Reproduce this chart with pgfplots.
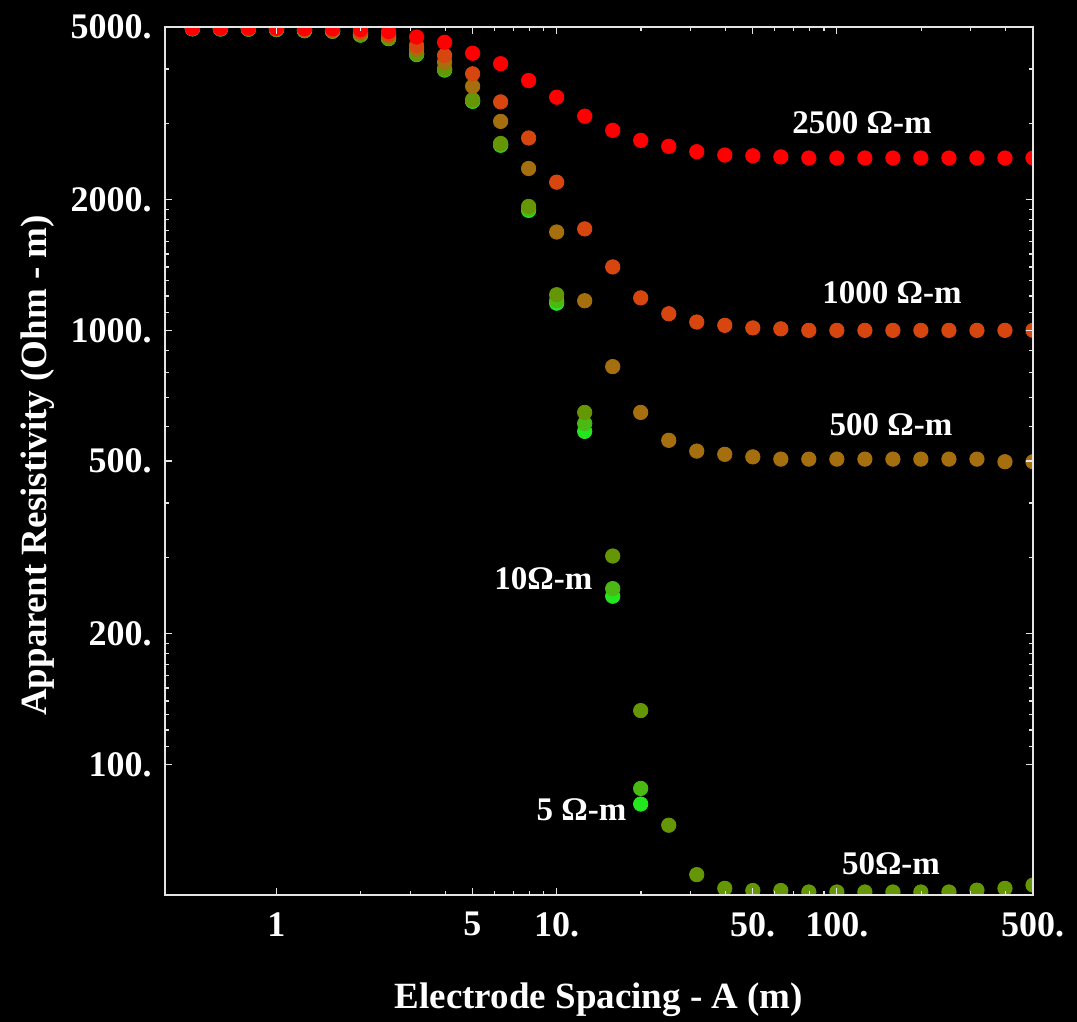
\documentclass[border=0pt]{standalone}
\usepackage{fontspec}
\setmainfont{Liberation Serif}
\usepackage{pgfplots}
\usepackage{pgfplotstable}
\pgfplotsset{compat=1.18}
\definecolor{c2500}{RGB}{255,0,0}
\definecolor{c1000}{RGB}{215,70,15}
\definecolor{c500}{RGB}{165,110,15}
\definecolor{c50}{RGB}{100,150,5}
\definecolor{c10}{RGB}{75,185,20}
\definecolor{c5}{RGB}{35,230,30}
\definecolor{fr}{RGB}{228,228,228}

\pgfplotstableread{
x      r2500 r1000 r500 r50
0.501  4970  4965  4960 4955
0.631  4970  4965  4960 4950
0.794  4970  4960  4955 4945
1      4970  4955  4950 4935
1.259  4960  4940  4930 4905
1.585  4950  4920  4900 4890
1.995  4930  4870  4850 4800
2.512  4880  4800  4770 4715
3.162  4740  4530  4440 4340
3.981  4610  4300  4150 4005
5.012  4350  3900  3650 3400
6.310  4115  3360  3030 2695
7.943  3765  2775  2360 1930
10     3445  2195  1685 1208
12.59  3115  1713  1170 647
15.85  2890  1400  825  302
19.95  2740  1188  647  133
25.12  2655  1092  558  72.4
31.62  2580  1045  527  55.7
39.81  2535  1027  518  51.8
50.12  2525  1013  511  51.2
63.10  2510  1008  505  51.2
79.43  2495  1000  505  50.8
100    2495  1000  505  50.8
125.9  2495  1000  505  50.8
158.5  2495  1000  505  50.8
199.5  2495  1000  505  50.8
251.2  2495  1000  505  50.8
316.2  2495  1000  505  51.3
398.1  2495  1000  498  51.8
501.2  2495  1000  498  52.7
}\mainseries

\pgfplotstableread{
x      r10   r5
0.501  4955  4955
0.631  4950  4950
0.794  4945  4945
1      4935  4935
1.259  4905  4905
1.585  4890  4890
1.995  4795  4790
2.512  4705  4700
3.162  4330  4320
3.981  3990  3980
5.012  3380  3370
6.310  2680  2670
7.943  1905  1890
10     1170  1155
12.59  610   585
15.85  254   244
19.95  88    81
}\lowseries

\begin{document}
\begin{tikzpicture}
\fill[black] (0pt,0pt) rectangle (538.5pt,511pt);
\begin{axis}[
  at={(82.5pt,63.5pt)}, anchor=south west,
  width=434pt, height=434pt, scale only axis,
  xmode=log, ymode=log,
  xmin=0.4, xmax=501.2, ymin=50, ymax=5000,
  axis line style={fr, line width=0.9pt},
  every tick/.style={fr, line width=0.6pt},
  major tick length=3.6pt, minor tick length=2pt,
  tick align=inside,
  xtick={1,5,10,50,100,500},
  xticklabels={1,5,10.,50.,100.,500.},
  minor xtick={2,3,4,6,7,8,9,20,30,40,60,70,80,90,200,300,400},
  ytick={100,200,500,1000,2000,5000},
  yticklabels={100.,200.,500.,1000.,2000.,5000.},
  minor ytick={110,120,130,140,150,160,170,180,190,300,400,600,700,800,900,1100,1200,1300,1400,1500,1600,1700,1800,1900,3000,4000},
  /pgf/number format/assume math mode=true,
  ticklabel style={font=\fontsize{18}{20}\selectfont\bfseries, text=white},
  xticklabel style={inner sep=0pt, yshift=-8.5pt},
  yticklabel style={inner sep=0pt, xshift=-6.5pt},
  xlabel={Electrode Spacing - A (m)},
  ylabel={Apparent Resistivity (Ohm - m)},
  label style={font=\fontsize{18.5}{21}\selectfont\bfseries, text=white},
  xlabel style={at={(axis description cs:0.5,-0.121)}, anchor=center},
  ylabel style={at={(axis description cs:-0.1463,0.495)}, anchor=center},
  clip marker paths=true,
  clip mode=individual,
  axis on top=true,
  every axis plot/.append style={only marks, mark=*, mark size=3.6pt},
]
\addplot[c5, mark options={draw=c5, fill=c5}] table[x=x, y=r5] {\lowseries};
\addplot[c10, mark options={draw=c10, fill=c10}] table[x=x, y=r10] {\lowseries};
\addplot[c50, mark options={draw=c50, fill=c50}] table[x=x, y=r50] {\mainseries};
\addplot[c500, mark options={draw=c500, fill=c500}] table[x=x, y=r500] {\mainseries};
\addplot[c1000, mark options={draw=c1000, fill=c1000}] table[x=x, y=r1000] {\mainseries};
\addplot[c2500, mark options={draw=c2500, fill=c2500}] table[x=x, y=r2500] {\mainseries};

\begin{scope}[every node/.style={font=\fontsize{16.5}{19}\selectfont\bfseries, text=white, inner sep=0pt}]
\node at (axis cs:122.9,3016) {2500 Ω-m};
\node at (axis cs:157.3,1224) {1000 Ω-m};
\node at (axis cs:156,607) {500 Ω-m};
\node at (axis cs:8.97,268) {10Ω-m};
\node at (axis cs:12.26,78.6) {5 Ω-m};
\node at (axis cs:156,59) {50Ω-m};
\end{scope}
\end{axis}
\pgfresetboundingbox
\useasboundingbox (0pt,0pt) rectangle (538.5pt,511pt);
\end{tikzpicture}
\end{document}
